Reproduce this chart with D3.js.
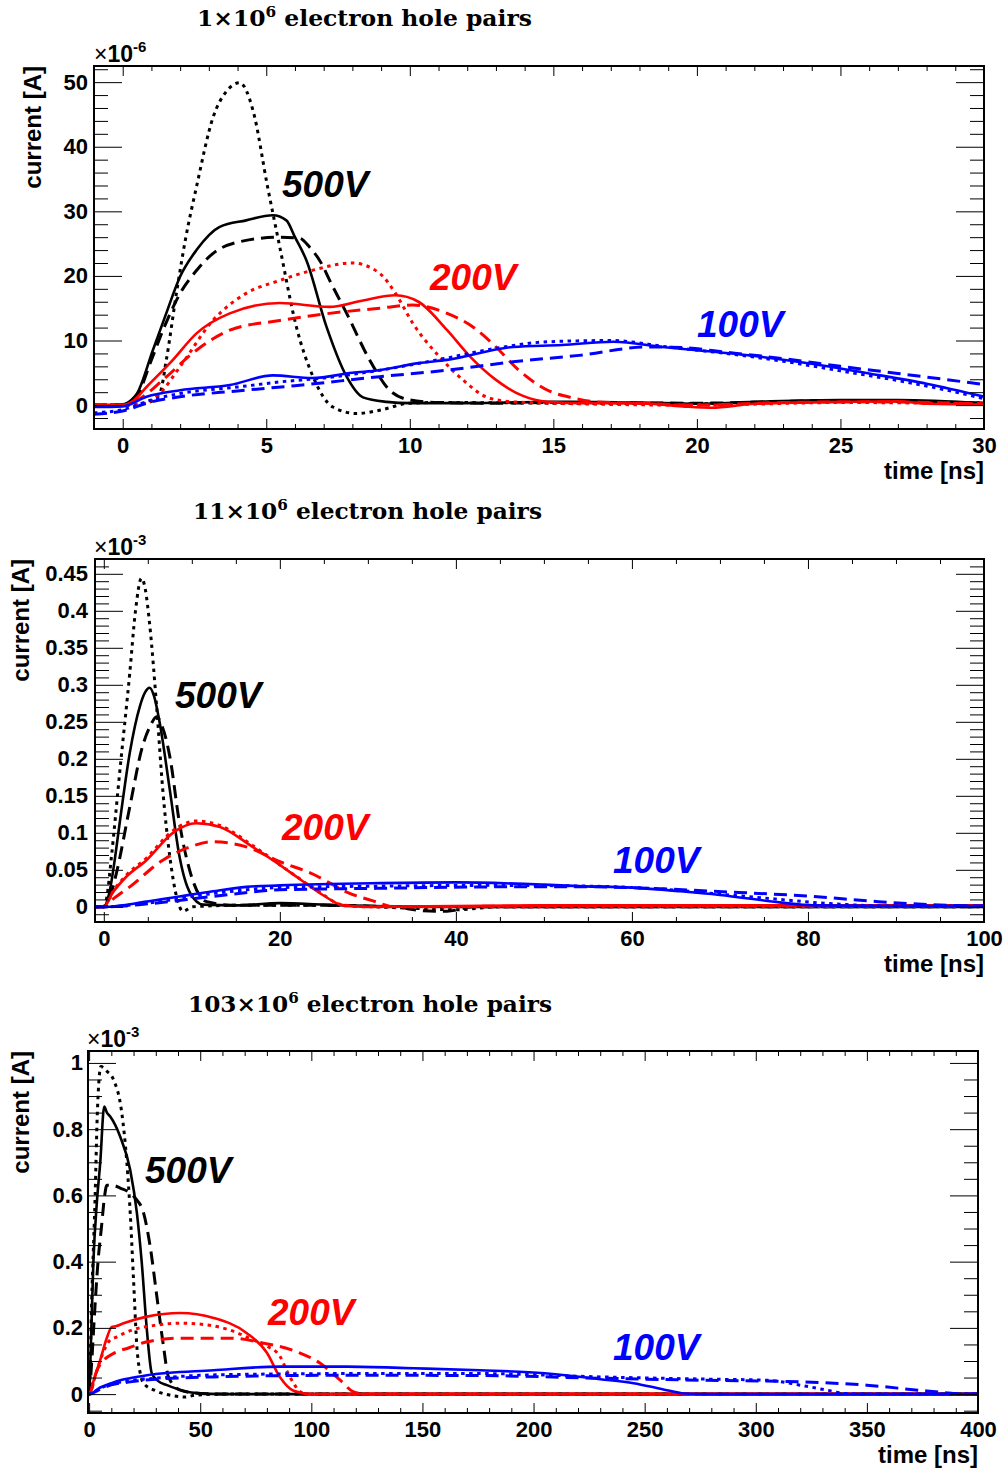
<!DOCTYPE html>
<html>
<head>
<meta charset="utf-8">
<script src="https://cdnjs.cloudflare.com/ajax/libs/d3/7.8.5/d3.min.js"></script>
<style>
body { margin: 0; background: #fff; }
</style>
</head>
<body>
<script>

// ---- panel 1 : 1e6 pairs, current in 1e-6 A, time in ns
var p1BlackSolid = [[-1,0],[0,0.1],[0.3,0.8],[0.5,1.8],[1.05,8.5],[1.5,14],[2.0,19.9],[2.57,24],[3.38,27.6],[4.3,28.6],[5.23,29.4],[5.7,28.6],[6.0,26],[6.4,22.4],[7.1,12.1],[7.8,4.4],[8.37,1.2],[9.2,0.5],[10,0.3],[12,0.3],[15,0.5],[18,0.4],[20,0.2],[22,0.5],[25,0.8],[27,0.8],[30,0.3]];
var p1BlackDashed = [[-1,0],[0,0.1],[0.5,1.5],[1.0,7],[1.44,12],[2.0,17.3],[2.6,21],[3.15,23.5],[4.3,25.5],[5.47,26],[6.17,25.8],[6.5,24.5],[6.86,22.4],[7.3,18.5],[7.8,14.2],[8.6,7.0],[9.3,2.3],[10,0.8],[11,0.4],[13,0.3],[15,0.4],[20,0.3],[25,0.7],[30,0.3]];
var p1BlackDotted = [[-1,0],[0,0],[0.8,0.3],[1.29,1.8],[1.52,7.0],[1.87,17.3],[2.2,26],[2.57,33.8],[3.15,44.6],[3.6,48.5],[4.08,49.9],[4.54,45.6],[5.05,33.7],[5.47,24.5],[6.05,12.1],[6.63,4.4],[7.32,-0.3],[8.15,-1.3],[8.95,-0.8],[10,0.3],[11,0.4],[15,0.3],[20,0.2],[25,0.6],[30,0.3]];
var p1RedSolid = [[-1,0],[0,0],[0.4,0.8],[0.83,2.8],[1.75,7.0],[2.57,11.1],[3.73,14.2],[5.47,15.8],[7.2,15.2],[8.37,16.2],[9.5,17.0],[10.3,16.0],[11.3,11.6],[12.1,7.5],[13.0,3.9],[13.9,1.5],[14.8,0.5],[16,0.3],[18,0.3],[19.5,-0.2],[20.5,-0.4],[22,0.2],[25,0.5],[27,0.6],[28,0.2],[30,0.1]];
var p1RedDashed = [[-1,0],[0,0],[0.6,1],[1.4,3.9],[2.57,8.5],[3.73,11.6],[5.47,13.1],[7.2,14.2],[8.95,15.0],[10.1,15.5],[11.3,14.2],[12.2,12.1],[13.0,9.0],[13.8,5.4],[14.8,2.3],[15.7,1.1],[16.5,0.5],[18,0.3],[20,0],[23,0.4],[26,0.5],[30,0.2]];
var p1RedDotted = [[-1,0],[0,0],[0.8,0.3],[1.29,1.8],[1.99,5.9],[3.14,13.1],[4.3,17.3],[5.47,19.3],[6.63,20.9],[8.0,22],[8.95,20.4],[9.5,17.3],[10.1,12.7],[11.05,7.4],[11.85,3.9],[12.7,1.2],[13.6,0.5],[15,0.3],[20,0],[25,0.4],[30,0.2]];
var p1BlueSolid = [[-1,-0.3],[0,-0.2],[0.83,1.3],[2,2.3],[3.73,3.1],[5.23,4.6],[6.6,4.2],[8,5.0],[8.95,5.4],[10.3,6.5],[11.3,7.0],[13.6,9.0],[15.3,9.3],[17.1,9.8],[18.8,9.0],[20,8.5],[22,7.6],[24,6.4],[26,4.9],[28,3.3],[30,1.3]];
var p1BlueDotted = [[-1,-1.2],[0,-0.7],[1,0.8],[2,1.8],[4,2.8],[5.5,3.6],[7,4.2],[8.95,5.4],[11.3,7.3],[13,8.8],[14.8,9.8],[17,10],[19,9.0],[21,8.0],[23,6.8],[25,5.3],[27,3.8],[28.5,2.5],[30,1.0]];
var p1BlueDashed = [[-1,-1.4],[0,-0.9],[1,0.5],[2,1.3],[4,2.2],[6,3.0],[8.95,4.4],[11.3,5.4],[13.6,6.7],[15.9,7.7],[18.3,9.0],[19.5,8.9],[21,8.2],[23,7.2],[25,6.0],[27,4.9],[30,3.2]];

// ---- panel 2 : 11e6 pairs, current in 1e-3 A
var p2BlackSolid = [[-1,0],[0,0],[0.3,0.005],[0.7,0.023],[1.2,0.06],[1.8,0.113],[2.95,0.208],[4.1,0.271],[4.7,0.29],[5.2,0.296],[5.7,0.285],[6.36,0.248],[7.5,0.158],[8.6,0.068],[9.8,0.019],[11.3,0.003],[15,0.002],[20,0.005],[25,0.003],[30,0.001],[40,0],[60,0],[100,0]];
var p2BlackDashed = [[-1,0],[0,0],[0.6,0.01],[1.44,0.046],[2.95,0.135],[4.4,0.217],[5.3,0.245],[6.0,0.257],[6.6,0.245],[7.5,0.203],[8.6,0.113],[10.1,0.036],[11.7,0.007],[15,0.002],[25,0.002],[33,0],[36,-0.005],[39,-0.006],[42,0],[60,0],[100,0]];
var p2BlackDotted = [[-1,0],[0,0],[0.3,0.01],[0.87,0.068],[1.8,0.181],[2.95,0.316],[3.6,0.4],[4.28,0.444],[4.7,0.43],[5.2,0.383],[6.0,0.271],[6.7,0.158],[7.5,0.068],[8.26,0.014],[9.0,-0.006],[10.1,0],[15,0.002],[25,0.002],[35,-0.002],[40,-0.004],[45,0],[100,0]];
var p2RedSolid = [[-1,0],[0,0],[1,0.019],[2.5,0.04],[4.85,0.063],[7.85,0.1],[10.5,0.113],[13.2,0.108],[16.9,0.081],[20.8,0.05],[24.5,0.019],[27.2,0.002],[30,0],[50,0.002],[100,0.002]];
var p2RedDashed = [[-1,0],[0,0],[1,0.01],[2.95,0.027],[6.7,0.063],[9.8,0.081],[12.4,0.088],[16.2,0.081],[20,0.061],[23.8,0.044],[25.7,0.032],[27.6,0.02],[30.6,0.008],[33,0],[50,0.001],[100,0.001]];
var p2RedDotted = [[-1,0],[0,0],[1,0.02],[2.5,0.042],[4.85,0.066],[7.85,0.103],[10.5,0.116],[13.2,0.11],[16.9,0.083],[20.8,0.05],[24.5,0.02],[27,0.003],[30,0],[100,0.001]];
var p2BlueSolid = [[-1,0],[0,0],[4.85,0.007],[8.6,0.014],[12.4,0.021],[16.2,0.027],[20,0.029],[31.4,0.032],[40,0.033],[50,0.03],[54,0.028],[60,0.026],[65.5,0.021],[70,0.016],[76.8,0.006],[80.6,0.002],[90,0.001],[100,0.001]];
var p2BlueDashed = [[-1,0],[0,0],[5,0.004],[12.4,0.014],[20,0.023],[31.4,0.025],[45,0.027],[55,0.027],[62,0.025],[69.2,0.021],[80.6,0.014],[88,0.007],[95.8,0.002],[100,0.001]];
var p2BlueDotted = [[-1,0],[0,0],[5,0.005],[12.4,0.018],[20,0.026],[31.4,0.028],[45,0.029],[55,0.028],[62,0.025],[73,0.014],[84.4,0.003],[90,0.001],[100,0.001]];

// ---- panel 3 : 103e6 pairs, current in 1e-3 A
var p3BlackSolid = [[-0.5,0],[0,0],[0.8,0.15],[1.9,0.396],[3.5,0.58],[5,0.698],[6.8,0.868],[8,0.85],[9.5,0.838],[14,0.777],[18.5,0.677],[21.5,0.547],[23.7,0.396],[26,0.193],[28.2,0.063],[31,0.04],[35,0.027],[40,0.015],[44,0.007],[48.5,0.003],[60,0],[400,0]];
var p3BlackDashed = [[-0.5,0],[0,0],[1,0.08],[2.5,0.25],[4,0.4],[5.5,0.5],[7,0.6],[8,0.631],[11,0.63],[14,0.622],[18.5,0.607],[21,0.59],[24.5,0.547],[27.5,0.445],[30.5,0.294],[33.5,0.143],[35.7,0.052],[41,0.012],[50,0.002],[60,0],[400,0]];
var p3BlackDotted = [[-0.5,0],[0,0],[1.2,0.294],[2.7,0.596],[3.7,0.849],[5.3,0.989],[8,0.975],[11,0.949],[14.7,0.849],[17,0.698],[18.5,0.547],[20,0.344],[21.5,0.143],[23,0.063],[24.5,0.033],[30,0.01],[38,-0.005],[43,-0.009],[48,-0.003],[60,0],[400,0]];
var p3RedSolid = [[-0.5,0],[0,0],[2,0.04],[5,0.103],[8,0.17],[10.2,0.203],[12,0.205],[15.5,0.214],[26,0.234],[41,0.245],[56,0.23],[71,0.184],[80,0.125],[86,0.05],[92,0.01],[100,0],[400,0]];
var p3RedDashed = [[-0.5,0],[0,0],[3.5,0.072],[7,0.105],[11,0.123],[18,0.14],[26,0.158],[41,0.169],[63.5,0.169],[78.5,0.154],[93.5,0.128],[104,0.093],[113,0.042],[119,0.007],[125,0],[400,0]];
var p3RedDotted = [[-0.5,0],[0,0],[3,0.06],[6,0.12],[9,0.16],[12.5,0.173],[20,0.195],[30,0.208],[41,0.214],[52,0.21],[63.5,0.193],[74,0.163],[80,0.145],[86,0.113],[89,0.07],[92,0.033],[95,0.007],[100,0],[400,0]];
var p3BlueSolid = [[-0.5,0],[0,0],[5,0.02],[10,0.033],[14,0.042],[20,0.05],[26,0.057],[56,0.072],[86,0.083],[116,0.083],[146,0.078],[176,0.072],[205,0.063],[230,0.045],[245,0.033],[258,0.015],[268,0.002],[280,0],[400,0]];
var p3BlueDashed = [[-0.5,0],[0,0],[5,0.015],[10,0.028],[18.5,0.037],[30,0.045],[56,0.052],[116,0.057],[176,0.056],[230,0.048],[275,0.042],[320,0.037],[350,0.027],[373,0.012],[388,0.003],[395,0],[400,0]];
var p3BlueDotted = [[-0.5,0],[0,0],[5,0.018],[10,0.03],[20,0.042],[30,0.048],[56,0.058],[116,0.062],[176,0.062],[230,0.052],[280,0.045],[305,0.042],[320,0.027],[332,0.012],[340,0.002],[350,0],[400,0]];

// tick labels
var p1XTicks = [0, 5, 10, 15, 20, 25, 30];
var p1YTicks = [0, 10, 20, 30, 40, 50];
var p2XTicks = [0, 20, 40, 60, 80, 100];
var p2YTicks = [0, 0.05, 0.1, 0.15, 0.2, 0.25, 0.3, 0.35, 0.4, 0.45];
var p3XTicks = [0, 50, 100, 150, 200, 250, 300, 350, 400];
var p3YTicks = [0, 0.2, 0.4, 0.6, 0.8, 1];

var voltages = ["500V", "200V", "100V"];
var colors = ["#000000", "#ff0000", "#0000ff"];

var dashes = { solid: null, dashed: "13,7", dotted: "3.5,4.5" };

var panels = [
  { left: 94, right: 984, top: 66, bottom: 429, xDomain: [-1, 30], yDomain: [-3.7, 52.5],
    xTicks: p1XTicks, yTicks: p1YTicks, xMinor: 1, yMinor: 2, yPad: 6,
    pairs: "1", exp: "-6", titleX: 197, titleY: 26, titleW: 335,
    expX: 94, expY: 62, yTitleX: 41,
    labels: [[282, 197], [430, 290], [697, 337]],
    series: [[p1BlackSolid, p1BlackDashed, p1BlackDotted], [p1RedSolid, p1RedDashed, p1RedDotted], [p1BlueSolid, p1BlueDashed, p1BlueDotted]] },
  { left: 95, right: 984, top: 559, bottom: 922, xDomain: [-1, 100], yDomain: [-0.0205, 0.47],
    xTicks: p2XTicks, yTicks: p2YTicks, xMinor: 5, yMinor: 0.01, yPad: 7,
    pairs: "11", exp: "-3", titleX: 193, titleY: 519, titleW: 349,
    expX: 94, expY: 555, yTitleX: 29,
    labels: [[175, 708], [282, 840], [613, 873]],
    series: [[p2BlackSolid, p2BlackDashed, p2BlackDotted], [p2RedSolid, p2RedDashed, p2RedDotted], [p2BlueSolid, p2BlueDashed, p2BlueDotted]] },
  { left: 88, right: 978, top: 1051, bottom: 1413, xDomain: [-0.5, 400], yDomain: [-0.057, 1.036],
    xTicks: p3XTicks, yTicks: p3YTicks, xMinor: 10, yMinor: 0.05, yPad: 5,
    pairs: "103", exp: "-3", titleX: 188, titleY: 1012, titleW: 364,
    expX: 87, expY: 1047, yTitleX: 29,
    labels: [[145, 1183], [268, 1325], [613, 1360]],
    series: [[p3BlackSolid, p3BlackDashed, p3BlackDotted], [p3RedSolid, p3RedDashed, p3RedDotted], [p3BlueSolid, p3BlueDashed, p3BlueDotted]] }
];

var styles = ["solid", "dashed", "dotted"];

var svg = d3.select("body").append("svg")
  .attr("width", 1004)
  .attr("height", 1473);

function minorTicks(domain, step, major) {
  var out = [];
  var start = Math.ceil(domain[0] / step - 1e-9);
  for (var i = start; i * step <= domain[1] + 1e-9; i++) {
    var v = +(i * step).toFixed(6);
    if (major.indexOf(v) < 0) out.push(v);
  }
  return out;
}

panels.forEach(function(p, pi) {
  var x = d3.scaleLinear().domain(p.xDomain).range([p.left, p.right]);
  var y = d3.scaleLinear().domain(p.yDomain).range([p.bottom, p.top]);
  var g = svg.append("g");

  g.append("clipPath").attr("id", "clip" + pi)
    .append("rect")
    .attr("x", p.left).attr("y", p.top)
    .attr("width", p.right - p.left).attr("height", p.bottom - p.top);

  var line = d3.line()
    .x(function(d) { return x(d[0]); })
    .y(function(d) { return y(d[1]); })
    .curve(d3.curveMonotoneX);

  var curves = g.append("g").attr("clip-path", "url(#clip" + pi + ")");
  p.series.forEach(function(group, vi) {
    group.forEach(function(data, si) {
      curves.append("path")
        .attr("d", line(data))
        .attr("fill", "none")
        .attr("stroke", colors[vi])
        .attr("stroke-width", si == 0 ? 2.6 : 3)
        .attr("stroke-dasharray", dashes[styles[si]]);
    });
  });

  // axes, ROOT style: ticks inside on all four sides
  var xMin = minorTicks(p.xDomain, p.xMinor, p.xTicks);
  var yMin = minorTicks(p.yDomain, p.yMinor, p.yTicks);

  function addAxis(axis, tx, ty) {
    var a = g.append("g").attr("transform", "translate(" + tx + "," + ty + ")").call(axis);
    a.select(".domain").remove();
    a.selectAll("line").attr("stroke", "#000").attr("stroke-width", 1);
    a.selectAll("text")
      .attr("font-family", "'Liberation Sans', Arial, sans-serif")
      .attr("font-weight", "bold")
      .attr("font-size", 22)
      .attr("fill", "#000");
    return a;
  }

  addAxis(d3.axisBottom(x).tickValues(p.xTicks).tickSize(-10).tickPadding(8).tickFormat(d3.format("")), 0, p.bottom);
  addAxis(d3.axisBottom(x).tickValues(xMin).tickSize(-5).tickFormat(""), 0, p.bottom);
  addAxis(d3.axisTop(x).tickValues(p.xTicks).tickSize(-10).tickFormat(""), 0, p.top);
  addAxis(d3.axisTop(x).tickValues(xMin).tickSize(-5).tickFormat(""), 0, p.top);
  addAxis(d3.axisLeft(y).tickValues(p.yTicks).tickSize(-28).tickPadding(p.yPad).tickFormat(d3.format("")), p.left, 0);
  addAxis(d3.axisLeft(y).tickValues(yMin).tickSize(-14).tickFormat(""), p.left, 0);
  addAxis(d3.axisRight(y).tickValues(p.yTicks).tickSize(-28).tickFormat(""), p.right, 0);
  addAxis(d3.axisRight(y).tickValues(yMin).tickSize(-14).tickFormat(""), p.right, 0);

  g.append("rect")
    .attr("x", p.left).attr("y", p.top)
    .attr("width", p.right - p.left).attr("height", p.bottom - p.top)
    .attr("fill", "none").attr("stroke", "#000").attr("stroke-width", 2);

  // exponent
  var ex = g.append("text")
    .attr("x", p.expX).attr("y", p.expY)
    .attr("font-family", "'Liberation Sans', Arial, sans-serif")
    .attr("font-size", 23).attr("fill", "#000");
  ex.append("tspan").text("\u00d7");
  ex.append("tspan").attr("font-weight", "bold").text("10");
  ex.append("tspan").attr("font-weight", "bold").attr("font-size", 15).attr("dy", -10).text(p.exp);

  // axis titles
  g.append("text")
    .attr("transform", "translate(" + p.yTitleX + "," + p.top + ") rotate(-90)")
    .attr("text-anchor", "end")
    .attr("font-family", "'Liberation Sans', Arial, sans-serif")
    .attr("font-weight", "bold").attr("font-size", 24)
    .text("current [A]");

  g.append("text")
    .attr("x", p.right).attr("y", p.bottom + 50)
    .attr("text-anchor", "end")
    .attr("font-family", "'Liberation Sans', Arial, sans-serif")
    .attr("font-weight", "bold").attr("font-size", 24)
    .text("time [ns]");

  // panel title
  var t = g.append("text")
    .attr("x", p.titleX).attr("y", p.titleY)
    .attr("font-family", "'DejaVu Serif', serif")
    .attr("font-weight", "bold").attr("font-size", 23)
    .attr("textLength", p.titleW).attr("lengthAdjust", "spacingAndGlyphs");
  t.append("tspan").text(p.pairs + "\u00d710");
  t.append("tspan").attr("font-size", 15).attr("dy", -9).text("6");
  t.append("tspan").attr("dy", 9).text(" electron hole pairs");

  // voltage labels
  p.labels.forEach(function(pos, vi) {
    g.append("text")
      .attr("x", pos[0]).attr("y", pos[1])
      .attr("font-family", "'Liberation Sans', Arial, sans-serif")
      .attr("font-weight", "bold").attr("font-style", "italic")
      .attr("font-size", 37)
      .attr("fill", colors[vi])
      .text(voltages[vi]);
  });
});

</script>
</body>
</html>
